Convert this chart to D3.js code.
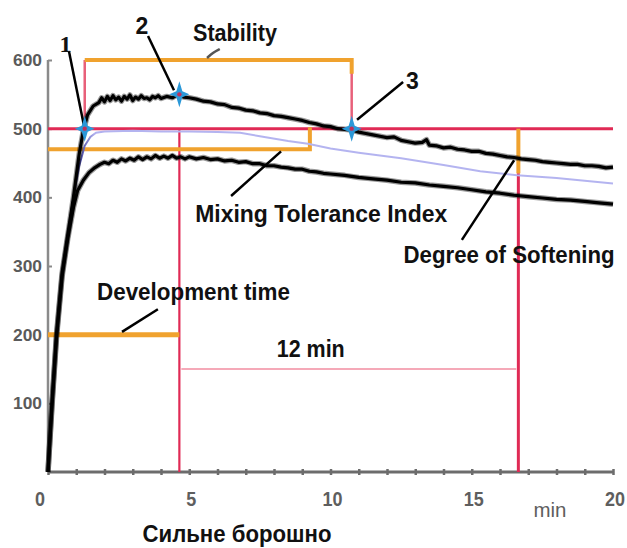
<!DOCTYPE html>
<html><head><meta charset="utf-8">
<script src="https://cdn.jsdelivr.net/npm/d3@7"></script>
<style>body{margin:0;background:#fff}svg{display:block}</style>
</head><body>
<svg id="c" width="627" height="548"></svg>
<script>
// ---------- data ----------
const xTickValues = d3.range(0, 21);
const xTickLabels = [0, 5, 10, 15, 20];
const yTickLabels = [100, 200, 300, 400, 500, 600];

// upper band curve (min, FU)
const upperCurve = [[0,0],[0.14,100],[0.3,200],[0.5,290],[0.7,345],[0.9,400],[1.1,462],[1.25,497],[1.4,520],[1.6,533],
 [1.8,538],[1.9,545],[2.0,539],[2.1,547],[2.2,541],[2.3,548],[2.4,542],[2.5,546],[2.6,540],[2.7,547],[2.8,543],[2.9,549],
 [3.0,541],[3.1,546],[3.2,543],[3.3,548],[3.4,544],[3.5,545],[3.6,542],[3.7,547],[3.8,545],[3.9,548],[4.0,544],[4.2,547],
 [4.4,545],[4.6,550],[4.8,546],[5.0,545],[5.25,543],[5.5,540],[5.75,539],[6.0,536],[6.25,535],[6.5,531],[6.75,530],[7.0,527],
 [7.25,526],[7.5,523],[7.75,522],[8.0,519],[8.25,518],[8.5,516],[8.75,514],[9.0,512],[9.25,509],[9.5,507],[9.75,504],[10.0,503],
 [10.25,500],[10.5,499],[10.75,498],[11.0,495],[11.25,493],[11.5,491],[11.75,489],[12.0,487],[12.25,488],[12.5,483],[12.75,481],
 [13.0,479],[13.25,480],[13.4,484],[13.5,476],[13.75,475],[14.0,472],[14.25,473],[14.5,470],[14.75,469],[15.0,467],[15.25,467],
 [15.5,464],[15.75,463],[16.0,461],[16.25,459],[16.5,458],[16.75,456],[17.0,455],[17.25,454],[17.5,452],[17.75,451],[18.0,450],
 [18.25,449],[18.5,448],[18.75,448],[19.0,446],[19.25,446],[19.5,445],[19.75,443],[20.0,444]];

// lower band curve
const lowerCurve = [[0,0],[0.14,95],[0.3,195],[0.5,285],[0.7,340],[0.9,385],[1.05,410],[1.25,425],[1.45,436],[1.65,443],
 [1.84,448],[2.0,451],[2.15,449],[2.3,454],[2.45,451],[2.6,456],[2.75,453],[2.9,457],[3.05,454],[3.2,459],[3.35,455],[3.5,459],
 [3.65,456],[3.8,461],[3.95,457],[4.1,460],[4.25,457],[4.4,461],[4.55,457],[4.7,459],[4.85,456],[5.0,459],[5.25,456],[5.5,458],
 [5.75,455],[6.0,456],[6.25,453],[6.5,454],[6.75,451],[7.0,452],[7.25,449],[7.5,449],[7.75,446],[8.0,446],[8.25,444],[8.5,443],
 [8.75,441],[9.0,441],[9.25,438],[9.5,437],[9.75,435],[10.0,434],[10.5,432],[11.0,429],[11.5,427],[12.0,425],[12.5,422],
 [13.0,421],[13.5,418],[14.0,416],[14.5,414],[15.0,411],[15.5,408],[16.0,406],[16.5,403],[17.0,401],[17.5,399],[18.0,397],
 [18.5,396],[19.0,394],[19.5,392],[20.0,390]];

// middle (median) curve
const middleCurve = [[0,0],[0.14,98],[0.3,198],[0.5,288],[0.7,345],[0.9,400],[1.1,445],[1.3,475],[1.5,488],[1.7,494],
 [2.0,496],[3.0,497],[4.0,496],[5.0,496],[6.0,495],[6.8,494],[7.5,489],[8.5,482],[9.2,478],[10.0,471],[11.0,465],
 [12.5,457],[14.0,447],[15.3,438],[16.6,432],[18.0,428],[20.0,420]];

// farinograph reference values
const consistencyLine = 500;      // FU
const stabilityTop = 600;
const mtiLevel = 470;
const devLevel = 200;
const twelveMinLevel = 150;
const softeningLow = 435;
const arrivalTime = 1.3;
const peakTime = 4.65;
const departureTime = 10.75;
const mtiEnd = 9.27;
const softeningTime = 16.65;
const markerPoints = [[arrivalTime, 500], [peakTime, 550], [departureTime, 500]];

// annotation texts and pointer lines (data units)
const labels = [
  {t:"1", x:0.62, y:612, size:24, font:"'Liberation Serif', 'DejaVu Serif', serif", w:null},
  {t:"2", x:3.32, y:638, size:23, w:null},
  {t:"3", x:12.9, y:558, size:23, w:null},
  {t:"Stability", x:6.62, y:628, size:24, w:84},
  {t:"Mixing Tolerance Index", x:9.67, y:364, size:24, w:252},
  {t:"Degree of Softening", x:16.32, y:304, size:24, w:211},
  {t:"Development time", x:5.15, y:250, size:24, w:193},
  {t:"12 min", x:9.3, y:167, size:24, w:68}
];
const pointers = [
  [[0.74,613],[1.27,505]],
  [[3.54,635],[4.46,556]],
  [[12.57,568],[10.94,513]],
  [[6.48,402],[8.25,467]],
  [[2.62,204],[3.89,237]],
  [[14.65,338],[16.5,454]]
];
const stabilityMark = [[5.63,603],[5.85,611],[6.08,616]];

// ---------- drawing ----------
const svg = d3.select("#c");
const x = d3.scaleLinear().domain([0, 20]).range([48, 613]);
const y = d3.scaleLinear().domain([0, 600]).range([472, 60]);
const line = d3.line().x(d => x(d[0])).y(d => y(d[1]));

const defs = svg.append("defs");
const grad = defs.append("linearGradient").attr("id","midg")
  .attr("gradientUnits","userSpaceOnUse").attr("x1",48).attr("x2",110).attr("y1",0).attr("y2",0);
grad.append("stop").attr("offset","0").attr("stop-color","#1b1b6e");
grad.append("stop").attr("offset","0.45").attr("stop-color","#2a2a8a");
grad.append("stop").attr("offset","0.75").attr("stop-color","#b0b0ee");
grad.append("stop").attr("offset","1").attr("stop-color","#b4b4f0");

const RED = "#e02a55", PINK = "#e8607a", ORANGE = "#f0a22e", LIGHTPINK = "#f5a9b8";

// axes
const yAxisG = svg.append("g").attr("transform", `translate(${x(0)},0)`)
  .call(d3.axisRight(y).tickValues(yTickLabels).tickSize(4).tickFormat(""));
yAxisG.select(".domain").attr("stroke","#8a8a8a").attr("stroke-width",2.5).attr("d",`M0,${y(600)}V${y(0)}`);
yAxisG.selectAll(".tick line").attr("stroke","#8a8a8a").attr("stroke-width",2);
svg.append("g").selectAll("text").data(yTickLabels).join("text")
  .attr("x", 42).attr("y", d => y(d)).attr("dy","0.36em").attr("text-anchor","end")
  .attr("font-family","'Liberation Sans', Arial, sans-serif").attr("font-size",17).attr("font-weight","bold")
  .attr("fill","#5a5a5a").attr("textLength",29).attr("lengthAdjust","spacingAndGlyphs").text(d => d);

const xAxisG = svg.append("g").attr("transform", `translate(0,${y(0)})`)
  .call(d3.axisBottom(x).tickValues(xTickValues).tickSize(3).tickFormat(""));
xAxisG.select(".domain").attr("stroke","#6c6c6c").attr("stroke-width",3).attr("d",`M${x(0)},0H${x(20)}`);
xAxisG.selectAll(".tick line").attr("stroke","#6c6c6c").attr("stroke-width",2.5).attr("y1",-3).attr("y2",3);
svg.append("g").selectAll("text").data(xTickLabels).join("text")
  .attr("x", d => x(d) + (d === 0 ? -8 : 2)).attr("y", 499).attr("dy","0.36em").attr("text-anchor","middle")
  .attr("font-family","'Liberation Sans', Arial, sans-serif").attr("font-size",20).attr("font-weight","bold")
  .attr("fill","#5e5e5e").attr("textLength", d => d < 10 ? 10 : 20).attr("lengthAdjust","spacingAndGlyphs").text(d => d);
svg.append("text").attr("x", 550).attr("y", 517).attr("text-anchor","middle")
  .attr("font-family","'Liberation Sans', Arial, sans-serif").attr("font-size",20)
  .attr("fill","#5e5e5e").attr("textLength",33).attr("lengthAdjust","spacingAndGlyphs").text("min");

// reference lines
svg.append("line").attr("x1",x(0)).attr("x2",x(20)).attr("y1",y(consistencyLine)).attr("y2",y(consistencyLine))
  .attr("stroke",RED).attr("stroke-width",3);
svg.append("line").attr("x1",x(peakTime)).attr("x2",x(peakTime)).attr("y1",y(consistencyLine)).attr("y2",y(0))
  .attr("stroke",RED).attr("stroke-width",2.2);
svg.append("line").attr("x1",x(softeningTime)).attr("x2",x(softeningTime)).attr("y1",y(softeningLow)).attr("y2",y(0))
  .attr("stroke",RED).attr("stroke-width",3);
// stability bracket
svg.append("path").attr("d",`M${x(arrivalTime)},${y(consistencyLine)}V${y(stabilityTop)}`).attr("stroke",PINK).attr("stroke-width",2.5).attr("fill","none");
svg.append("path").attr("d",`M${x(departureTime)},${y(consistencyLine)}V${y(stabilityTop)}`).attr("stroke",PINK).attr("stroke-width",2.5).attr("fill","none");
svg.append("path").attr("d",`M${x(arrivalTime)},${y(stabilityTop)}H${x(departureTime)}V${y(580)}`).attr("stroke",ORANGE).attr("stroke-width",4).attr("fill","none");
// MTI bracket
svg.append("path").attr("d",`M${x(0)},${y(mtiLevel)}H${x(mtiEnd)}V${y(502)}`).attr("stroke",ORANGE).attr("stroke-width",4).attr("fill","none");
// development time
svg.append("line").attr("x1",x(0)).attr("x2",x(peakTime)).attr("y1",y(devLevel)).attr("y2",y(devLevel))
  .attr("stroke",ORANGE).attr("stroke-width",5);
// 12 min line
svg.append("line").attr("x1",x(peakTime)+2).attr("x2",x(softeningTime)-2).attr("y1",y(twelveMinLevel)).attr("y2",y(twelveMinLevel))
  .attr("stroke",LIGHTPINK).attr("stroke-width",2);
// degree of softening
svg.append("line").attr("x1",x(softeningTime)).attr("x2",x(softeningTime)).attr("y1",y(consistencyLine)).attr("y2",y(softeningLow))
  .attr("stroke",ORANGE).attr("stroke-width",4);

// curves
svg.append("path").datum(middleCurve).attr("d",line).attr("fill","none").attr("stroke","url(#midg)").attr("stroke-width",2);
[upperCurve, lowerCurve].forEach(c => {
  svg.append("path").datum(c).attr("d",line).attr("fill","none").attr("stroke","#000").attr("stroke-opacity",0.4)
    .attr("stroke-width",5.5).attr("stroke-linejoin","round");
  svg.append("path").datum(c).attr("d",line).attr("fill","none").attr("stroke","#000")
    .attr("stroke-width",3.2).attr("stroke-linejoin","round");
});

// pointers
pointers.forEach(p => {
  svg.append("path").datum(p).attr("d",line).attr("stroke","#000").attr("stroke-width",2.5).attr("fill","none");
});
svg.append("path").datum(stabilityMark).attr("d",d3.line().x(d=>x(d[0])).y(d=>y(d[1])).curve(d3.curveBasis))
  .attr("stroke","#555").attr("stroke-width",2.5).attr("fill","none");

// star markers
const star4 = {draw(ctx, size){
  const r = Math.sqrt(size), w = r*0.3, v = r*1.3;
  ctx.moveTo(0,-v); ctx.lineTo(w,-w); ctx.lineTo(r,0); ctx.lineTo(w,w);
  ctx.lineTo(0,v); ctx.lineTo(-w,w); ctx.lineTo(-r,0); ctx.lineTo(-w,-w); ctx.closePath();
}};
svg.append("g").selectAll("path").data(markerPoints).join("path")
  .attr("transform", d => `translate(${x(d[0])},${y(d[1])})`)
  .attr("d", d3.symbol().type(star4).size(100)).attr("fill","#2b98d8");
svg.append("g").selectAll("circle").data(markerPoints).join("circle")
  .attr("cx", d => x(d[0])).attr("cy", d => y(d[1])).attr("r",2.2).attr("fill","#c0305a");

// labels
labels.forEach(l => {
  const t = svg.append("text").attr("x", x(l.x)).attr("y", y(l.y)).attr("text-anchor","middle")
    .attr("font-family", l.font || "'Liberation Sans', Arial, sans-serif")
    .attr("font-size", l.size).attr("font-weight","bold").attr("fill","#111").text(l.t);
  if (l.w) t.attr("textLength", l.w).attr("lengthAdjust","spacingAndGlyphs");
});
svg.append("text").attr("x", 237).attr("y", 542).attr("text-anchor","middle")
  .attr("font-family","'Liberation Sans', Arial, sans-serif").attr("font-size",23).attr("font-weight","bold")
  .attr("fill","#111").attr("textLength",189).attr("lengthAdjust","spacingAndGlyphs").text("Сильне борошно");
</script>
</body></html>
